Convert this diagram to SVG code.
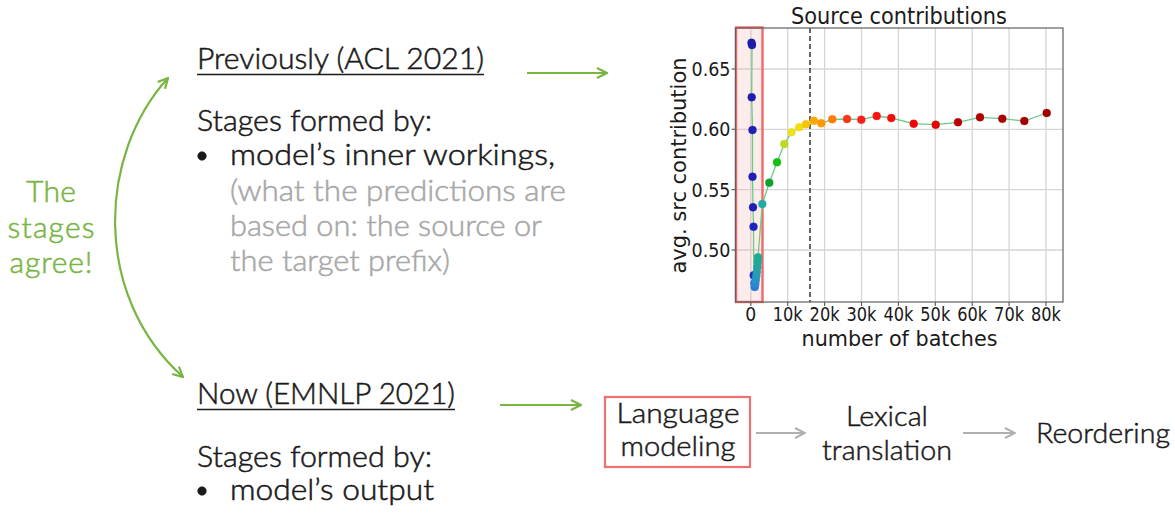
<svg xmlns="http://www.w3.org/2000/svg" width="1175" height="525" viewBox="0 0 1175 525">
  <style>
    .slide { font-family: Lato, "Open Sans", "Liberation Sans", sans-serif; font-size: 30px; font-weight: 300; fill: #1a1a1a; stroke: #1a1a1a; stroke-width: 0.55; }
    .muted { fill: #a8a8a8; stroke: #a8a8a8; }
    .green { fill: #78b543; stroke: #78b543; }
    .flow { font-family: Lato, "Open Sans", "Liberation Sans", sans-serif; font-size: 27px; font-weight: 300; fill: #1a1a1a; stroke: #1a1a1a; stroke-width: 0.5; }
    .plt { font-family: "DejaVu Sans", sans-serif; fill: #1a1a1a; }
    .tick { font-size: 19.5px; }
    .grid line { stroke: #d6d6d6; stroke-width: 1.3; }
    .spine { fill: none; stroke: #606060; stroke-width: 1.2; }
    .gArrow { fill: none; stroke: #78b543; stroke-width: 2.2; }
    .grayArrow { fill: none; stroke: #b0b0b0; stroke-width: 2; }
    .underline { stroke: #1a1a1a; stroke-width: 1.5; }
    .pts circle { stroke-width: 0.6; stroke-opacity: 0.5; }
  </style>
  <defs>
    <marker id="gHead" viewBox="0 0 12 12" refX="11" refY="6" markerWidth="12" markerHeight="12" markerUnits="userSpaceOnUse" orient="auto-start-reverse">
      <path d="M1,1 L11,6 L1,11" fill="none" stroke="#78b543" stroke-width="2.2"/>
    </marker>
    <marker id="grayHead" viewBox="0 0 12 12" refX="11" refY="6" markerWidth="12" markerHeight="12" markerUnits="userSpaceOnUse" orient="auto">
      <path d="M1,1 L11,6 L1,11" fill="none" stroke="#b0b0b0" stroke-width="2"/>
    </marker>
  </defs>
  <rect width="1175" height="525" fill="#ffffff"/>

  <!-- "The stages agree!" label -->
  <g id="agree" class="slide green" text-anchor="middle">
    <text x="51" y="202" textLength="50">The</text>
    <text x="51" y="238" textLength="87">stages</text>
    <text x="51" y="273" textLength="83">agree!</text>
  </g>

  <!-- Previous work block -->
  <g id="previously" class="slide">
    <text x="197" y="69" textLength="287" lengthAdjust="spacingAndGlyphs">Previously (ACL 2021)</text>
    <line class="underline" x1="197" y1="74.5" x2="484" y2="74.5"/>
    <text x="197" y="131" textLength="235" lengthAdjust="spacingAndGlyphs">Stages formed by:</text>
    <circle cx="202" cy="156" r="4.3" fill="#1a1a1a"/>
    <text x="230" y="165" textLength="325" lengthAdjust="spacingAndGlyphs">model’s inner workings,</text>
    <text class="slide muted" x="230" y="201" textLength="336" lengthAdjust="spacingAndGlyphs">(what the predictions are</text>
    <text class="slide muted" x="230" y="236" textLength="312" lengthAdjust="spacingAndGlyphs">based on: the source or</text>
    <text class="slide muted" x="230" y="271" textLength="220" lengthAdjust="spacingAndGlyphs">the target prefix)</text>
  </g>

  <!-- Current work block -->
  <g id="now" class="slide">
    <text x="197" y="404" textLength="258" lengthAdjust="spacingAndGlyphs">Now (EMNLP 2021)</text>
    <line class="underline" x1="197" y1="409.5" x2="455" y2="409.5"/>
    <text x="197" y="467" textLength="235" lengthAdjust="spacingAndGlyphs">Stages formed by:</text>
    <circle cx="202" cy="491" r="4.3" fill="#1a1a1a"/>
    <text x="230" y="500" textLength="204" lengthAdjust="spacingAndGlyphs">model’s output</text>
  </g>

  <!-- Stage pipeline -->
  <g id="lm" class="flow" text-anchor="middle">
    <rect x="605" y="397" width="145" height="70" fill="none" stroke="#f07070" stroke-width="2.2"/>
    <text x="678" y="423" textLength="123" lengthAdjust="spacingAndGlyphs">Language</text>
    <text x="678" y="456" textLength="115" lengthAdjust="spacingAndGlyphs">modeling</text>
  </g>
  <g id="lexical" class="flow" text-anchor="middle">
    <text x="887" y="426" textLength="82" lengthAdjust="spacingAndGlyphs">Lexical</text>
    <text x="887" y="460" textLength="130" lengthAdjust="spacingAndGlyphs">translation</text>
  </g>
  <g id="reordering" class="flow">
    <text x="1036" y="443" textLength="134" lengthAdjust="spacingAndGlyphs">Reordering</text>
  </g>

  <!-- Chart: source contributions over training -->
  <g id="chart">
    <g class="grid">
      <line x1="750.8" y1="28" x2="750.8" y2="302"/>
      <line x1="787.7" y1="28" x2="787.7" y2="302"/>
      <line x1="824.6" y1="28" x2="824.6" y2="302"/>
      <line x1="861.5" y1="28" x2="861.5" y2="302"/>
      <line x1="898.4" y1="28" x2="898.4" y2="302"/>
      <line x1="935.3" y1="28" x2="935.3" y2="302"/>
      <line x1="972.2" y1="28" x2="972.2" y2="302"/>
      <line x1="1009.1" y1="28" x2="1009.1" y2="302"/>
      <line x1="1046" y1="28" x2="1046" y2="302"/>
      <line x1="735.5" y1="69" x2="1063" y2="69"/>
      <line x1="735.5" y1="129.3" x2="1063" y2="129.3"/>
      <line x1="735.5" y1="189.6" x2="1063" y2="189.6"/>
      <line x1="735.5" y1="250" x2="1063" y2="250"/>
    </g>
    <line x1="810" y1="28" x2="810" y2="302" stroke="#333" stroke-width="1.5" stroke-dasharray="5,3"/>
    <rect x="736" y="27.5" width="26.5" height="274.5" fill="#f4a0a0" fill-opacity="0.2" stroke="#f06a6a" stroke-width="2.4"/>

    <polyline fill="none" stroke="#6ccb86" stroke-width="1.3" points="751.5,42.7 752,45 751.7,97.3 752.5,130 752.5,176.7 753,207.3 753.5,226.7 753.7,275.3 754.3,283.3 754.7,287 755.3,284 755.8,280 756.3,276 756.8,272 757.3,267 757.8,262 758,257.3 762.3,204 769.3,182.7 777,162.3 784.3,144 791.5,132.3 799.2,127.2 806,124.3 813.8,120.7 821.3,123.3 832.3,119.3 847,119 861.3,119.7 876.7,116 891.3,118 913.7,123.7 935.7,124.7 958,122.3 980,117.3 1002.3,118.7 1024.3,121 1046.7,113"/>

    <g class="pts">
      <circle cx="751.5" cy="42.7" r="4" fill="#1c1ca8" stroke="#1c1ca8"/>
      <circle cx="752" cy="45" r="4" fill="#1c1ca8" stroke="#1c1ca8"/>
      <circle cx="751.7" cy="97.3" r="4" fill="#1e1eb0" stroke="#1e1eb0"/>
      <circle cx="752.5" cy="130" r="4" fill="#1e1eb0" stroke="#1e1eb0"/>
      <circle cx="752.5" cy="176.7" r="4" fill="#1e1eb4" stroke="#1e1eb4"/>
      <circle cx="753" cy="207.3" r="4" fill="#1e1eb8" stroke="#1e1eb8"/>
      <circle cx="753.5" cy="226.7" r="4" fill="#1e24bc" stroke="#1e24bc"/>
      <circle cx="753.7" cy="275.3" r="4" fill="#2030c4" stroke="#2030c4"/>
      <circle cx="754.3" cy="283.3" r="4" fill="#2a78d8" stroke="#2a78d8"/>
      <circle cx="754.7" cy="287" r="4" fill="#2a78d8" stroke="#2a78d8"/>
      <circle cx="755.3" cy="284" r="4" fill="#2a86d0" stroke="#2a86d0"/>
      <circle cx="755.8" cy="280" r="4" fill="#2a90c8" stroke="#2a90c8"/>
      <circle cx="756.3" cy="276" r="4" fill="#2898bc" stroke="#2898bc"/>
      <circle cx="756.8" cy="272" r="4" fill="#24a0b0" stroke="#24a0b0"/>
      <circle cx="757.3" cy="267" r="4" fill="#22a4a4" stroke="#22a4a4"/>
      <circle cx="757.8" cy="262" r="4" fill="#20a89c" stroke="#20a89c"/>
      <circle cx="758" cy="257.3" r="4" fill="#20aa96" stroke="#20aa96"/>
      <circle cx="762.3" cy="204" r="4" fill="#22aaa6" stroke="#22aaa6"/>
      <circle cx="769.3" cy="182.7" r="4" fill="#10a02c" stroke="#10a02c"/>
      <circle cx="777" cy="162.3" r="4" fill="#12c012" stroke="#12c012"/>
      <circle cx="784.3" cy="144" r="4" fill="#c0d820" stroke="#c0d820"/>
      <circle cx="791.5" cy="132.3" r="4" fill="#ece224" stroke="#ece224"/>
      <circle cx="799.2" cy="127.2" r="4" fill="#f2dc10" stroke="#f2dc10"/>
      <circle cx="806" cy="124.3" r="4" fill="#f6c400" stroke="#f6c400"/>
      <circle cx="813.8" cy="120.7" r="4" fill="#ffa600" stroke="#ffa600"/>
      <circle cx="821.3" cy="123.3" r="4" fill="#ff9800" stroke="#ff9800"/>
      <circle cx="832.3" cy="119.3" r="4" fill="#ff7c00" stroke="#ff7c00"/>
      <circle cx="847" cy="119" r="4" fill="#ff3414" stroke="#ff3414"/>
      <circle cx="861.3" cy="119.7" r="4" fill="#ff1c1c" stroke="#ff1c1c"/>
      <circle cx="876.7" cy="116" r="4" fill="#ff1010" stroke="#ff1010"/>
      <circle cx="891.3" cy="118" r="4" fill="#f40c0c" stroke="#f40c0c"/>
      <circle cx="913.7" cy="123.7" r="4" fill="#e80606" stroke="#e80606"/>
      <circle cx="935.7" cy="124.7" r="4" fill="#e00404" stroke="#e00404"/>
      <circle cx="958" cy="122.3" r="4" fill="#bc0000" stroke="#bc0000"/>
      <circle cx="980" cy="117.3" r="4" fill="#b00000" stroke="#b00000"/>
      <circle cx="1002.3" cy="118.7" r="4" fill="#a80000" stroke="#a80000"/>
      <circle cx="1024.3" cy="121" r="4" fill="#a40000" stroke="#a40000"/>
      <circle cx="1046.7" cy="113" r="4" fill="#a00000" stroke="#a00000"/>
    </g>

    <!-- axes frame and ticks -->
    <rect class="spine" x="735.5" y="28" width="327.5" height="274"/>
    <g stroke="#606060" stroke-width="1.2">
      <line x1="731.5" y1="69" x2="735.5" y2="69"/>
      <line x1="731.5" y1="129.3" x2="735.5" y2="129.3"/>
      <line x1="731.5" y1="189.6" x2="735.5" y2="189.6"/>
      <line x1="731.5" y1="250" x2="735.5" y2="250"/>
      <line x1="750.8" y1="302" x2="750.8" y2="306"/>
      <line x1="787.7" y1="302" x2="787.7" y2="306"/>
      <line x1="824.6" y1="302" x2="824.6" y2="306"/>
      <line x1="861.5" y1="302" x2="861.5" y2="306"/>
      <line x1="898.4" y1="302" x2="898.4" y2="306"/>
      <line x1="935.3" y1="302" x2="935.3" y2="306"/>
      <line x1="972.2" y1="302" x2="972.2" y2="306"/>
      <line x1="1009.1" y1="302" x2="1009.1" y2="306"/>
      <line x1="1046" y1="302" x2="1046" y2="306"/>
    </g>

    <g class="plt tick" text-anchor="end">
      <text x="730.5" y="76" textLength="39" lengthAdjust="spacingAndGlyphs">0.65</text>
      <text x="730.5" y="136.3" textLength="39" lengthAdjust="spacingAndGlyphs">0.60</text>
      <text x="730.5" y="196.6" textLength="39" lengthAdjust="spacingAndGlyphs">0.55</text>
      <text x="730.5" y="257" textLength="39" lengthAdjust="spacingAndGlyphs">0.50</text>
    </g>
    <g class="plt tick" text-anchor="middle">
      <text x="750.8" y="321" textLength="11" lengthAdjust="spacingAndGlyphs">0</text>
      <text x="787.7" y="321" textLength="30" lengthAdjust="spacingAndGlyphs">10k</text>
      <text x="824.6" y="321" textLength="30" lengthAdjust="spacingAndGlyphs">20k</text>
      <text x="861.5" y="321" textLength="30" lengthAdjust="spacingAndGlyphs">30k</text>
      <text x="898.4" y="321" textLength="30" lengthAdjust="spacingAndGlyphs">40k</text>
      <text x="935.3" y="321" textLength="30" lengthAdjust="spacingAndGlyphs">50k</text>
      <text x="972.2" y="321" textLength="30" lengthAdjust="spacingAndGlyphs">60k</text>
      <text x="1009.1" y="321" textLength="30" lengthAdjust="spacingAndGlyphs">70k</text>
      <text x="1046" y="321" textLength="30" lengthAdjust="spacingAndGlyphs">80k</text>
    </g>
    <text class="plt" x="899" y="24" font-size="23" text-anchor="middle" textLength="216" lengthAdjust="spacingAndGlyphs">Source contributions</text>
    <text class="plt" x="899.5" y="345.5" font-size="21.5" text-anchor="middle" textLength="196" lengthAdjust="spacingAndGlyphs">number of batches</text>
    <text class="plt" transform="translate(686,165.5) rotate(-90)" x="0" y="0" font-size="22" text-anchor="middle" textLength="216" lengthAdjust="spacingAndGlyphs">avg. src contribution</text>
  </g>

  <!-- connectors -->
  <g id="connectors">
    <path class="gArrow" d="M183,377 C92,295 98,155 168,78" marker-start="url(#gHead)" marker-end="url(#gHead)"/>
    <line class="gArrow" x1="527" y1="73" x2="607" y2="73" marker-end="url(#gHead)"/>
    <line class="gArrow" x1="500" y1="405" x2="581" y2="405" marker-end="url(#gHead)"/>
    <line class="grayArrow" x1="756" y1="433" x2="805" y2="433" marker-end="url(#grayHead)"/>
    <line class="grayArrow" x1="963" y1="433" x2="1015" y2="433" marker-end="url(#grayHead)"/>
  </g>
</svg>
